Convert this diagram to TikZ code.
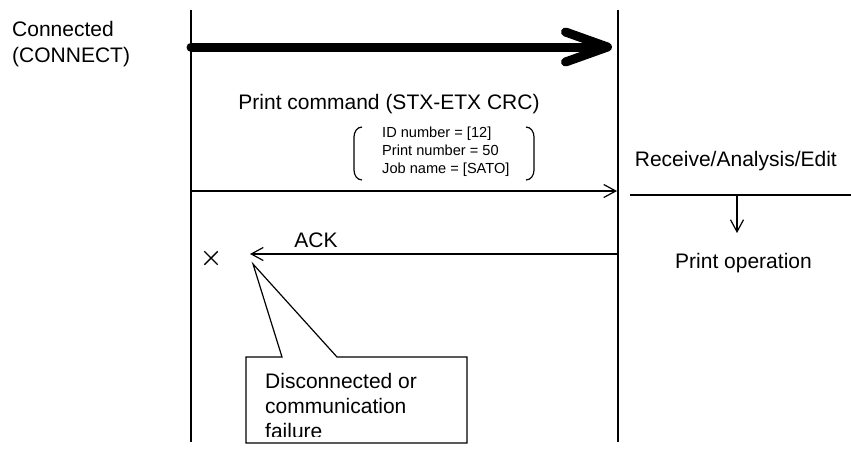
\documentclass[tikz,border=0pt]{standalone}
\usepackage{fontspec}
\setmainfont{Liberation Sans}
\usetikzlibrary{arrows.meta,shapes.misc}
\tikzset{
  lifeline/.style={line width=2.8pt},
  msg/.style={line width=1.2pt,-{Straight Barb[length=12pt,width=13pt,line width=1.2pt]}},
  bigmsg/.style={line width=9pt,line cap=round,-{Straight Barb[length=42pt,width=30pt,line width=9pt,line cap=round,round]}},
  lbl/.style={inner sep=0pt,font=\fontsize{21}{26}\selectfont},
  small/.style={inner sep=0pt,align=left,font=\fontsize{14.6}{18}\selectfont},
  brack/.style={line width=1.2pt},
}
\begin{document}
\begin{tikzpicture}[x=1pt,y=-1pt]
\useasboundingbox[fill=white] (0,0) rectangle (851,448);
% lifelines
\coordinate (Ltop) at (191,10); \coordinate (Lbot) at (191,442);
\coordinate (Rtop) at (618,10); \coordinate (Rbot) at (618,442);
\draw[lifeline] (Ltop) -- (Lbot);
\draw[lifeline] (Rtop) -- (Rbot);
% connect
\node[lbl,align=left,anchor=north west] (conn) at (12,21) {Connected\\(CONNECT)};
\coordinate (c1) at (191,47); \coordinate (c2) at (612,47);
\draw[bigmsg] (c1) -- (c2);
% print command
\node[lbl,anchor=base] (pcmd) at (389,109) {Print command (STX-ETX CRC)};
\node[small,anchor=north west] (params) at (382,127) {ID number = [12]\\Print number = 50\\Job name = [SATO]};
\draw[brack] (362,127) to[out=180,in=90] (354,137) -- (354,170) to[out=-90,in=180] (362,180);
\draw[brack] (526,127) to[out=0,in=90] (534,137) -- (534,170) to[out=-90,in=0] (526,180);
\coordinate (p1) at (191,191); \coordinate (p2) at (617,191);
\draw[msg] (p1) -- (p2);
% printer side
\node[lbl,anchor=base east] (recv) at (837,166) {Receive/Analysis/Edit};
\coordinate (h1) at (630,195); \coordinate (h2) at (851,195);
\draw[line width=1.2pt] (h1) -- (h2);
\coordinate (d1) at (737,195); \coordinate (d2) at (737,233);
\draw[msg] (d1) -- (d2);
\node[lbl,anchor=base east] (pop) at (812,268) {Print operation};
% ACK
\coordinate (a1) at (618,254); \coordinate (a2) at (250,254);
\draw[msg] (a1) -- (a2);
\node[lbl,anchor=base] (ack) at (316,247) {ACK};
\node[cross out,draw,line width=1.4pt,minimum size=12pt,inner sep=0pt] (cross) at (211,258) {};
% callout
\coordinate (tip) at (253,264);
\draw[line width=1.2pt,fill=white] (246,357) -- (282,357) -- (tip) -- (337,357) -- (467,357) -- (467,443) -- (246,443) -- cycle;
\begin{scope}
\clip (246,357) rectangle (467,436);
\node[lbl,align=left,anchor=north west,font=\fontsize{21}{25}\selectfont] (fail) at (265,373) {Disconnected or\\communication\\failure};
\end{scope}
\end{tikzpicture}
\end{document}
